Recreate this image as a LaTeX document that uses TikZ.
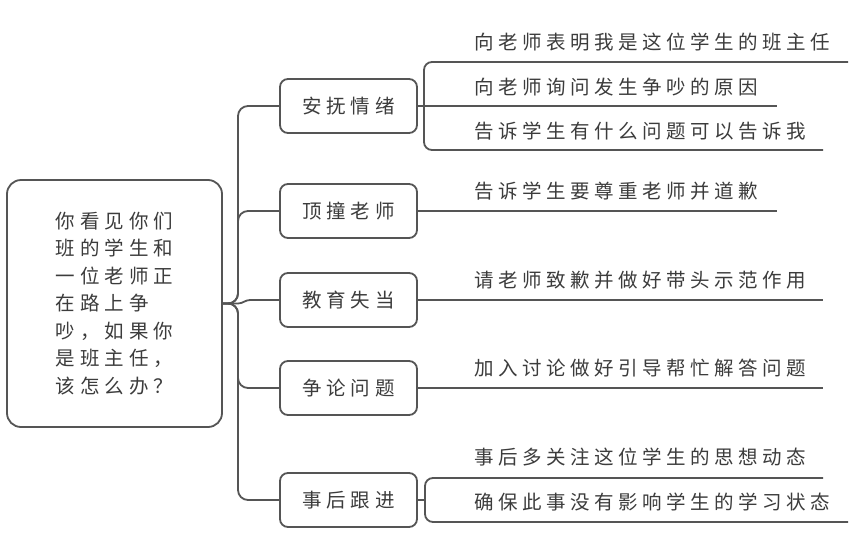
\documentclass[tikz,border=0pt]{standalone}
\usepackage{fontspec}
\newfontfamily\cjk{Noto Sans CJK SC}
\definecolor{linec}{HTML}{555555}
\definecolor{textc}{HTML}{3C3C3C}
\makeatletter
\def\spc@end{\spc@end}
\def\spc#1#2{\def\spc@w{#1}\spc@aux#2\spc@end}
\def\spc@aux#1{\ifx#1\spc@end\else\hbox to \spc@w{\hss#1\hss}\expandafter\spc@aux\fi}
\makeatother
\begin{document}
\begin{tikzpicture}[x=1pt,y=-1pt,
  ln/.style={draw=linec,line width=1.8pt},
  rootbox/.style={ln,rounded corners=14pt,minimum width=215pt,minimum height=247pt,inner sep=0pt,align=left,text=textc,font=\cjk\fontsize{19.5}{27.5}\selectfont},
  midbox/.style={ln,rounded corners=8pt,minimum width=137pt,minimum height=54pt,inner sep=0pt,text=textc,font=\cjk\fontsize{19.5}{23}\selectfont},
  leaf/.style={anchor=west,inner sep=0pt,text=textc,font=\cjk\fontsize{19.5}{23}\selectfont}]
\useasboundingbox (0,0) rectangle (863,552);
\fill[white] (0,0) rectangle (863,552);

% root
\node[rootbox] (root) at (114.5,303.5) {\spc{24.5pt}{你看见你们}\\\spc{24.5pt}{班的学生和}\\\spc{24.5pt}{一位老师正}\\\spc{24.5pt}{在路上争}\\\spc{24.5pt}{吵，如果你}\\\spc{24.5pt}{是班主任，}\\\spc{24.5pt}{该怎么办？}};

% second level
\node[midbox] (b1) at (348.5,106) {\spc{24.3pt}{安抚情绪}};
\node[midbox] (b2) at (348.5,211) {\spc{24.3pt}{顶撞老师}};
\node[midbox] (b3) at (348.5,300) {\spc{24.3pt}{教育失当}};
\node[midbox] (b4) at (348.5,388) {\spc{24.3pt}{争论问题}};
\node[midbox] (b5) at (348.5,500) {\spc{24.3pt}{事后跟进}};

% trunk
\coordinate (tj) at (238,303.5);
\draw[ln,rounded corners=10pt] (root.east) -- (tj) |- (b1.west);
\draw[ln,rounded corners=10pt] (root.east) -- (tj) |- (b2.west);
\draw[ln] (root.east) -- (tj) to[out=0,in=180] (250,300) -- (b3.west);
\draw[ln,rounded corners=10pt] (root.east) -- (tj) |- (b4.west);
\draw[ln,rounded corners=10pt] (root.east) -- (tj) |- (b5.west);

% leaves
\node[leaf] (t11) at (472,42) {\spc{24pt}{向老师表明我是这位学生的班主任}};
\node[leaf] (t12) at (472,87) {\spc{24pt}{向老师询问发生争吵的原因}};
\node[leaf] (t13) at (472,131) {\spc{24pt}{告诉学生有什么问题可以告诉我}};
\node[leaf] (t21) at (472,191) {\spc{24pt}{告诉学生要尊重老师并道歉}};
\node[leaf] (t31) at (472,280) {\spc{24pt}{请老师致歉并做好带头示范作用}};
\node[leaf] (t41) at (472,368) {\spc{24pt}{加入讨论做好引导帮忙解答问题}};
\node[leaf] (t51) at (472,457) {\spc{24pt}{事后多关注这位学生的思想动态}};
\node[leaf] (t52) at (472,502) {\spc{24pt}{确保此事没有影响学生的学习状态}};

% leaf underlines
\coordinate (e11) at (848,62);
\coordinate (e12) at (777,106);
\coordinate (e13) at (823,150);
\coordinate (e21) at (777,211);
\coordinate (e31) at (823,300);
\coordinate (e41) at (823,388);
\coordinate (e51) at (823,478);
\coordinate (e52) at (848,522);
\coordinate (k1) at (424,106);
\coordinate (k5) at (425,500);

\draw[ln] (b1.east) -- (e12);
\draw[ln,rounded corners=8pt] (e11) -- (k1 |- e11) -- (k1 |- e13) -- (e13);
\draw[ln] (b2.east) -- (e21);
\draw[ln] (b3.east) -- (e31);
\draw[ln] (b4.east) -- (e41);
\draw[ln] (b5.east) -- (k5);
\draw[ln,rounded corners=8pt] (e51) -- (k5 |- e51) -- (k5 |- e52) -- (e52);
\end{tikzpicture}
\end{document}
